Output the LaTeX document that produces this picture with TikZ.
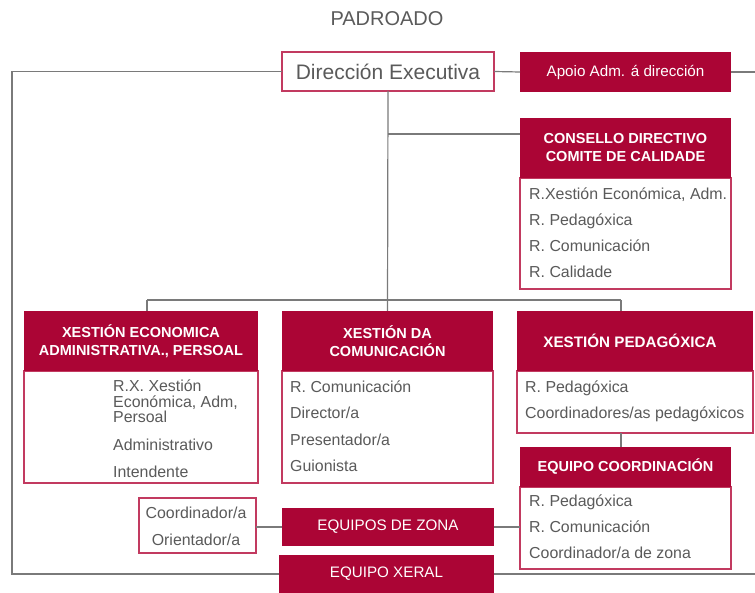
\documentclass[tikz,border=0pt]{standalone}
\usepackage{fontspec}
\setmainfont{Liberation Sans}
\definecolor{crim}{HTML}{AB0535}
\definecolor{bord}{HTML}{C23A60}
\definecolor{ln}{HTML}{7A7A7A}
\definecolor{tx}{HTML}{5A5A5A}
\begin{document}
\begin{tikzpicture}[x=1pt,y=-1pt,
  box/.style={anchor=north west,inner sep=0pt,outer sep=0pt},
  hdr/.style={box,fill=crim,draw=none,text=white,align=center,
    font=\fontsize{14.5}{18}\selectfont\bfseries},
  hdrreg/.style={box,fill=crim,draw=none,text=white,align=center,
    font=\fontsize{15.2}{18}\selectfont},
  bodybox/.style={box,fill=white,draw=bord,line width=1.4pt},
  item/.style={anchor=base west,inner sep=0pt,text=tx,
    font=\fontsize{15.9}{15.5}\selectfont},
  citem/.style={anchor=base,inner sep=0pt,text=tx,
    font=\fontsize{15.9}{15.5}\selectfont},
  conn/.style={draw=ln,line width=1.2pt}]
\useasboundingbox (0,0) rectangle (755,593);

% title
\node[inner sep=0pt,text=tx,font=\fontsize{20}{24}\selectfont] (title) at (387,19) {PADROADO};

% top row
\node[bodybox,minimum width=212pt,minimum height=39pt,text=tx,
  font=\fontsize{21}{24}\selectfont] (dir) at (282,52) {Dirección Executiva};
\node[hdrreg,minimum width=211pt,minimum height=40pt] (apoio) at (520,52) {Apoio Adm. á dirección};

% consello
\node[bodybox,minimum width=211pt,minimum height=111pt] (consb) at (520,178) {};
\node[hdr,minimum width=211pt,minimum height=60pt] (consh) at (520,118) {CONSELLO DIRECTIVO\\COMITE DE CALIDADE};
\node[item] (c1) at (529,200) {R.Xestión Económica, Adm.};
\node[item] (c2) at (529,226) {R. Pedagóxica};
\node[item] (c3) at (529,252) {R. Comunicación};
\node[item] (c4) at (529,278) {R. Calidade};

% xestion economica
\node[bodybox,minimum width=234pt,minimum height=112pt] (xeab) at (24,371) {};
\node[hdr,minimum width=234pt,minimum height=60pt] (xeah) at (24,311) {XESTIÓN ECONOMICA\\ADMINISTRATIVA., PERSOAL};
\node[anchor=north west,inner sep=0pt,text=tx,align=left,
  font=\fontsize{15.9}{15.5}\selectfont] (e1) at (113,380) {R.X. Xestión\\Económica, Adm,\\Persoal};
\node[item] (e2) at (113,450) {Administrativo};
\node[item] (e3) at (113,477) {Intendente};

% xestion comunicacion
\node[bodybox,minimum width=211pt,minimum height=112pt] (xcomb) at (282,371) {};
\node[hdr,minimum width=211pt,minimum height=60pt] (xcomh) at (282,311) {XESTIÓN DA\\COMUNICACIÓN};
\node[item] (m1) at (290,392) {R. Comunicación};
\node[item] (m2) at (290,418) {Director/a};
\node[item] (m3) at (290,445) {Presentador/a};
\node[item] (m4) at (290,471) {Guionista};

% xestion pedagoxica
\node[bodybox,minimum width=236pt,minimum height=62pt] (xpedb) at (517,371) {};
\node[hdr,minimum width=236pt,minimum height=60pt] (xpedh) at (517,311) {};
\node[inner sep=0pt,text=white,font=\fontsize{15.2}{18}\selectfont\bfseries] (xpedt) at (630,341) {XESTIÓN PEDAGÓXICA};
\node[item] (p1) at (525,392) {R. Pedagóxica};
\node[item] (p2) at (525,418) {Coordinadores/as pedagóxicos};

% equipo coordinacion
\node[bodybox,minimum width=211pt,minimum height=82pt] (ecob) at (520,487) {};
\node[hdr,minimum width=211pt,minimum height=40pt] (ecoh) at (520,447) {EQUIPO COORDINACIÓN};
\node[item] (q1) at (529,506) {R. Pedagóxica};
\node[item] (q2) at (529,532) {R. Comunicación};
\node[item] (q3) at (529,558) {Coordinador/a de zona};

% coordinador / orientador
\node[bodybox,minimum width=117pt,minimum height=55pt] (cob) at (139,498) {};
\node[citem] (o1) at (196,518) {Coordinador/a};
\node[citem] (o2) at (196,545) {Orientador/a};

% equipos de zona, equipo xeral
\node[hdrreg,minimum width=212pt,minimum height=38pt] (zona) at (282,508) {EQUIPOS DE ZONA};
\node[hdrreg,minimum width=215pt,minimum height=38pt] (xeral) at (279,555) {EQUIPO XERAL};

% coordinates
\coordinate (ltop) at (12,71.5);
\coordinate (lbot) at (12,574);
\coordinate (rtop) at (755,72);
\coordinate (rbot) at (755,574);
\coordinate (bc) at (388,134);
\coordinate (bl) at (147,300);
\coordinate (br) at (621,300);

% connectors
\draw[conn] (dir.west) -- (ltop) -- (lbot) -- (xeral.west);
\draw[conn] (xeral.east) -- (rbot);
\draw[conn] (dir.east) -- (apoio.west);
\draw[conn] (apoio.east) -- (rtop);
\draw[conn] (dir.south) -- (xcomh.north);
\draw[conn] (bc) -- (bc -| consh.west);
\draw[conn] (bl) -- (br);
\draw[conn] (bl) -- (bl |- xeah.north);
\draw[conn] (br) -- (br |- xpedh.north);
\draw[conn] (br |- xpedb.south) -- (br |- ecoh.north);
\draw[conn] (zona.west) -- (zona.west -| cob.east);
\draw[conn] (zona.east) -- (zona.east -| ecob.west);
\end{tikzpicture}
\end{document}
